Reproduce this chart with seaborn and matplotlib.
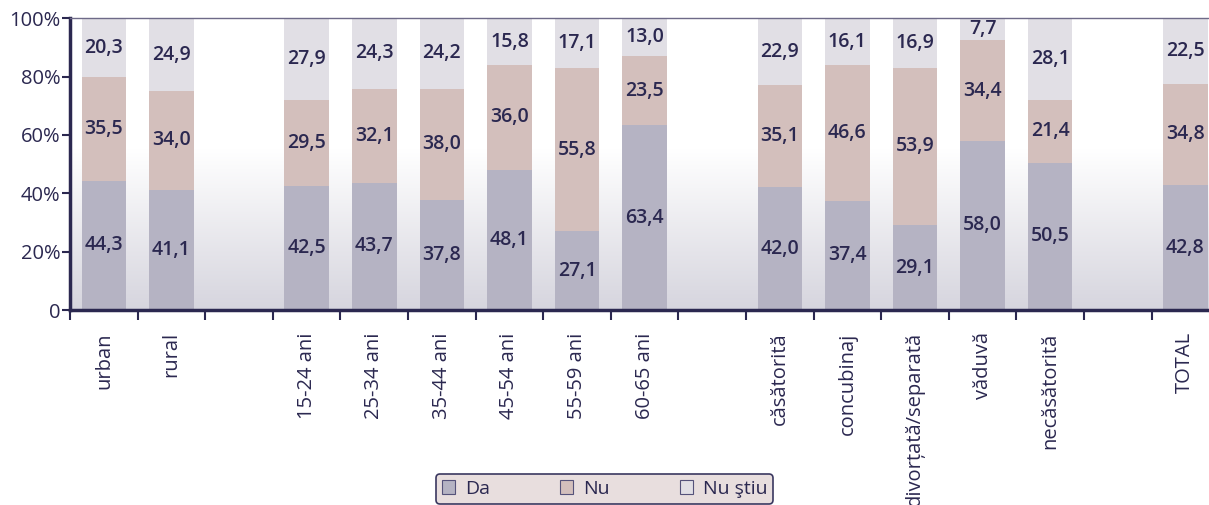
import numpy as np
import pandas as pd
import matplotlib
matplotlib.use("Agg")
import matplotlib.pyplot as plt
import seaborn as sns
from matplotlib.patches import Patch
from matplotlib.colors import LinearSegmentedColormap

categories = ["urban", "rural", " ", "15-24 ani", "25-34 ani", "35-44 ani", "45-54 ani",
              "55-59 ani", "60-65 ani", "  ", "căsătorită", "concubinaj",
              "divorțată/separată", "văduvă", "necăsătorită", "   ", "TOTAL"]
data_cats = ["urban", "rural", "15-24 ani", "25-34 ani", "35-44 ani", "45-54 ani",
             "55-59 ani", "60-65 ani", "căsătorită", "concubinaj",
             "divorțată/separată", "văduvă", "necăsătorită", "TOTAL"]
da = [44.3, 41.1, 42.5, 43.7, 37.8, 48.1, 27.1, 63.4, 42.0, 37.4, 29.1, 58.0, 50.5, 42.8]
nu = [35.5, 34.0, 29.5, 32.1, 38.0, 36.0, 55.8, 23.5, 35.1, 46.6, 53.9, 34.4, 21.4, 34.8]
nu_stiu = [20.3, 24.9, 27.9, 24.3, 24.2, 15.8, 17.1, 13.0, 22.9, 16.1, 16.9, 7.7, 28.1, 22.5]
series_names = ["Da", "Nu", "Nu ştiu"]
colors = ["#b5b3c3", "#d3bfbc", "#e1dfe5"]
txt_color = "#2b2850"

sns.set_theme(style="white")
plt.rcParams["font.family"] = ["Open Sans", "DejaVu Sans"]

df = pd.DataFrame({"cat": data_cats, "Da": da, "Nu": nu, "Nu ştiu": nu_stiu})
df["c1"] = df["Da"]
df["c2"] = df["Da"] + df["Nu"]
df["c3"] = np.minimum(df["c2"] + df["Nu ştiu"], 100)

fig = plt.figure(figsize=(12.09, 5.05), dpi=100)
ax = fig.add_axes([0.058, 0.386, 0.942, 0.578])

# gradient background
grad = np.linspace(0, 1, 256).reshape(-1, 1)
cmap = LinearSegmentedColormap.from_list("bg", [(0, "#d6d5de"), (0.55, "#ffffff"), (1, "#ffffff")])
ax.imshow(grad, aspect="auto", cmap=cmap, origin="lower", extent=[0, 1, 0, 1],
          transform=ax.transAxes, zorder=0)

for col, c in [("c3", colors[2]), ("c2", colors[1]), ("c1", colors[0])]:
    sns.barplot(data=df, x="cat", y=col, order=categories, color=c, width=0.66,
                saturation=1, ax=ax, zorder=2, linewidth=0, errorbar=None)

for i, cat in enumerate(data_cats):
    xpos = categories.index(cat)
    b = 0
    for v in (da[i], nu[i], nu_stiu[i]):
        top = min(b + v, 100)
        ax.text(xpos, (b + top) / 2, f"{v:.1f}".replace(".", ","), ha="center", va="center",
                fontsize=14, fontweight="semibold", color=txt_color, zorder=5)
        b += v

ax.set_xlim(-0.5, 16.35)
ax.set_ylim(0, 100)
ax.set_xlabel("")
ax.set_ylabel("")
ax.set_yticks([0, 20, 40, 60, 80, 100])
ax.set_yticklabels(["0", "20%", "40%", "60%", "80%", "100%"], fontsize=14.5, color=txt_color)
ax.set_xticks(range(len(categories)))
ax.set_xticklabels([c.strip() for c in categories], rotation=90, fontsize=14.5,
                   color=txt_color, va="top", ha="center")
ax.set_xticks(np.arange(-0.5, 16.5, 1), minor=True)
ax.tick_params(axis="x", which="major", length=0, pad=16)
ax.tick_params(axis="x", which="minor", length=7, width=1.5, color=txt_color, direction="out", bottom=True)
ax.tick_params(axis="y", length=6, width=1.5, color=txt_color, direction="out", left=True, pad=1)

for s in ["left", "bottom"]:
    ax.spines[s].set_color(txt_color)
    ax.spines[s].set_linewidth(2.5)
ax.spines["top"].set_color("#6e6a88")
ax.spines["top"].set_linewidth(1)
ax.spines["right"].set_visible(False)

handles = [Patch(facecolor=colors[k], edgecolor="#55527a", linewidth=0.8, label=series_names[k])
           for k in range(3)]
leg = fig.legend(handles=handles, loc="center", bbox_to_anchor=(0.5, 0.032), ncol=3,
                 frameon=True, fancybox=True, fontsize=14, columnspacing=3.6,
                 handlelength=0.7, handleheight=0.7, handletextpad=0.5,
                 borderpad=0.3, labelcolor=txt_color)
leg.get_frame().set_facecolor("#e8dede")
leg.get_frame().set_edgecolor("#3b3860")
leg.get_frame().set_linewidth(1.2)
leg.get_frame().set_alpha(1)

fig.savefig("out.png", dpi=100)
